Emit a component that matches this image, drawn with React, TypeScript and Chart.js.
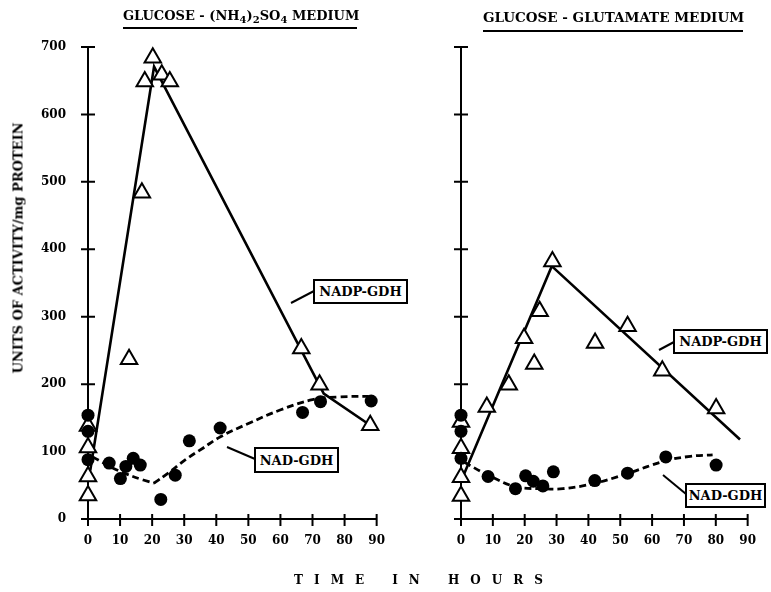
import React, { useEffect, useRef } from "react";
import { Chart, registerables } from "chart.js";

Chart.register(...registerables);

// ---------- data ----------
const xTickValues = [0, 10, 20, 30, 40, 50, 60, 70, 80, 90];
const yTickValues = [0, 100, 200, 300, 400, 500, 600, 700];

// Left panel: Glucose - (NH4)2SO4 medium
const leftNadpHours = [0, 0, 0, 0, 12.8, 16.8, 17.7, 20.2, 23, 25.5, 66.5, 72.2, 88];
const leftNadpValues = [138, 106, 63, 35, 237, 484, 649, 684, 659, 649, 253, 199, 139];
const leftNadHours = [0, 0, 0, 6.6, 10.1, 11.8, 14.1, 16.3, 22.7, 27.2, 31.6, 41.2, 66.9, 72.5, 88.3];
const leftNadValues = [154, 130, 88, 83, 60, 78, 90, 80, 29, 65, 116, 135, 158, 174, 175];
const leftNadpFitHours = [0.7, 20.6, 73.5, 88];
const leftNadpFitValues = [72, 671, 186, 139];
const leftNadFitAHours = [1.5, 8, 14, 20.5];
const leftNadFitAValues = [92, 75, 63, 53];
const leftNadFitBHours = [20.5, 25, 30.4, 35.8, 41.3, 50.2, 60.1, 70, 78, 87.5];
const leftNadFitBValues = [53, 68, 88, 105, 122, 142, 162, 177, 181, 182];

// Right panel: Glucose - glutamate medium
const rightNadpHours = [0, 0, 0, 0, 8.1, 15, 19.8, 23, 24.7, 28.7, 42.1, 52.3, 63.2, 80.1];
const rightNadpValues = [144, 105, 62, 34, 166, 199, 268, 230, 308, 382, 261, 286, 220, 164];
const rightNadHours = [0, 0, 0, 8.5, 17.1, 20.3, 22.7, 25.7, 29, 42, 52.3, 64.3, 80.1];
const rightNadValues = [154, 130, 90, 63, 45, 64, 56, 49, 70, 57, 68, 92, 80];
const rightNadpFitHours = [1, 28.5, 87.6];
const rightNadpFitValues = [67, 375, 118];
const rightNadFitHours = [1, 9, 17, 25, 32, 42, 52, 64, 72, 79];
const rightNadFitValues = [84, 64, 48, 45, 45, 53, 67, 86, 93, 95];

const FONT = "'DejaVu Serif', 'Liberation Serif', serif";

const pts = (xs: number[], ys: number[]) => xs.map((x, i) => ({ x, y: ys[i] }));

const triangleSet = (xs: number[], ys: number[]) => ({
  data: pts(xs, ys),
  showLine: false,
  pointStyle: "triangle",
  pointRadius: 9.5,
  pointBorderWidth: 2,
  pointBackgroundColor: "#ffffff",
  pointBorderColor: "#000000",
  clip: false,
  order: 1,
});

const circleSet = (xs: number[], ys: number[]) => ({
  data: pts(xs, ys),
  showLine: false,
  pointStyle: "circle",
  pointRadius: 6.5,
  pointBorderWidth: 0,
  pointBackgroundColor: "#000000",
  pointBorderColor: "#000000",
  clip: false,
  order: 0,
});

const solidLine = (xs: number[], ys: number[]) => ({
  data: pts(xs, ys),
  showLine: true,
  borderColor: "#000000",
  borderWidth: 2.6,
  pointRadius: 0,
  tension: 0,
  clip: false,
  order: 3,
});

const dashedLine = (xs: number[], ys: number[], tension: number) => ({
  data: pts(xs, ys),
  showLine: true,
  borderColor: "#000000",
  borderWidth: 2.8,
  borderDash: [7, 4],
  pointRadius: 0,
  tension,
  clip: false,
  order: 3,
});

const crossAxes = {
  id: "crossAxes",
  beforeDatasetsDraw(chart: any) {
    const { ctx, chartArea: a, scales } = chart;
    const x = scales.x;
    const y = scales.y;
    ctx.save();
    ctx.strokeStyle = "#000";
    ctx.lineWidth = 2;
    ctx.beginPath();
    ctx.moveTo(a.left, a.top);
    ctx.lineTo(a.left, a.bottom);
    ctx.moveTo(a.left - 7, a.bottom);
    ctx.lineTo(a.right, a.bottom);
    y.ticks.forEach((t: any) => {
      const py = y.getPixelForValue(t.value);
      ctx.moveTo(a.left - 7, py);
      ctx.lineTo(a.left + 7, py);
    });
    x.ticks.forEach((t: any) => {
      const px = x.getPixelForValue(t.value);
      ctx.moveTo(px, a.bottom - 5);
      ctx.lineTo(px, a.bottom + 7);
    });
    ctx.stroke();
    ctx.restore();
  },
};

function makeConfig(datasets: any[], showYLabels: boolean, yAxisWidth: number, rightPad: number): any {
  return {
    type: "scatter",
    data: { datasets },
    options: {
      responsive: false,
      animation: false,
      events: [],
      layout: { padding: { top: 47, right: rightPad, left: 0, bottom: 0 } },
      plugins: { legend: { display: false }, tooltip: { enabled: false }, title: { display: false } },
      scales: {
        x: {
          type: "linear",
          min: 0,
          max: 90,
          grid: { display: false, drawTicks: false },
          border: { display: false },
          afterBuildTicks: (s: any) => {
            s.ticks = xTickValues.map((v) => ({ value: v }));
          },
          ticks: {
            padding: 15,
            color: "#000",
            maxRotation: 0,
            autoSkip: false,
            font: { family: FONT, weight: "bold", size: 12 },
            callback: (v: any) => String(v),
          },
          afterFit: (s: any) => {
            s.height = 73;
          },
        },
        y: {
          type: "linear",
          min: 0,
          max: 700,
          grid: { display: false, drawTicks: false },
          border: { display: false },
          afterBuildTicks: (s: any) => {
            s.ticks = yTickValues.map((v) => ({ value: v }));
          },
          ticks: {
            display: showYLabels,
            padding: 22,
            color: "#000",
            font: { family: FONT, weight: "bold", size: 12 },
            callback: (v: any) => String(v),
          },
          afterFit: (s: any) => {
            s.width = yAxisWidth;
          },
        },
      },
    },
    plugins: [crossAxes],
  };
}

function Panel(props: { left: number; width: number; config: any }) {
  const ref = useRef<HTMLCanvasElement | null>(null);
  useEffect(() => {
    if (!ref.current) return;
    const chart = new Chart(ref.current, props.config);
    return () => chart.destroy();
  }, []);
  return (
    <canvas
      ref={ref}
      width={props.width}
      height={592}
      style={{ position: "absolute", left: props.left, top: 0, width: props.width, height: 592 }}
    />
  );
}

const boxStyle = (left: number, top: number, width: number, height: number): React.CSSProperties => ({
  position: "absolute",
  left,
  top,
  width,
  height,
  boxSizing: "border-box",
  border: "2px solid #000",
  background: "#fff",
  fontFamily: FONT,
  fontWeight: "bold",
  fontSize: 13,
  display: "flex",
  alignItems: "center",
  justifyContent: "center",
  whiteSpace: "nowrap",
  color: "#000",
});

const subStyle: React.CSSProperties = { fontSize: 10, verticalAlign: "-3px", lineHeight: 0 };

export default function App() {
  const leftConfig = makeConfig(
    [
      solidLine(leftNadpFitHours, leftNadpFitValues),
      dashedLine(leftNadFitAHours, leftNadFitAValues, 0.3),
      dashedLine(leftNadFitBHours, leftNadFitBValues, 0.4),
      triangleSet(leftNadpHours, leftNadpValues),
      circleSet(leftNadHours, leftNadValues),
    ],
    true,
    88,
    9
  );
  const rightConfig = makeConfig(
    [
      solidLine(rightNadpFitHours, rightNadpFitValues),
      dashedLine(rightNadFitHours, rightNadFitValues, 0.4),
      triangleSet(rightNadpHours, rightNadpValues),
      circleSet(rightNadHours, rightNadValues),
    ],
    false,
    61,
    9
  );

  const titleStyle: React.CSSProperties = {
    position: "absolute",
    fontFamily: FONT,
    fontWeight: "bold",
    fontSize: 13,
    color: "#000",
    whiteSpace: "nowrap",
    textAlign: "center",
    lineHeight: "16px",
  };

  return (
    <div style={{ position: "absolute", left: 0, top: 0, width: 771, height: 592, background: "#fff", overflow: "hidden" }}>
      <Panel left={0} width={400} config={leftConfig} />
      <Panel left={400} width={371} config={rightConfig} />

      {/* titles */}
      <div style={{ ...titleStyle, left: 123, top: 8, width: 234 }}>
        GLUCOSE - (NH<sub style={subStyle}>4</sub>)<sub style={subStyle}>2</sub>SO<sub style={subStyle}>4</sub> MEDIUM
      </div>
      <div style={{ position: "absolute", left: 123, top: 27, width: 234, height: 2, background: "#000" }} />
      <div style={{ ...titleStyle, fontSize: 13.5, left: 483, top: 9, width: 260 }}>GLUCOSE - GLUTAMATE MEDIUM</div>
      <div style={{ position: "absolute", left: 483, top: 30, width: 260, height: 2, background: "#000" }} />

      {/* y axis title */}
      <div
        style={{
          position: "absolute",
          left: 18,
          top: 248,
          transform: "translate(-50%, -50%) rotate(-90deg)",
          fontFamily: FONT,
          fontWeight: "bold",
          fontSize: 13,
          whiteSpace: "nowrap",
          color: "#000",
        }}
      >
        UNITS OF ACTIVITY/mg PROTEIN
      </div>

      {/* x axis title */}
      <div
        style={{
          position: "absolute",
          left: 424,
          top: 580,
          transform: "translate(-50%, -50%)",
          fontFamily: FONT,
          fontWeight: "bold",
          fontSize: 12,
          letterSpacing: 11,
          wordSpacing: 2,
          whiteSpace: "nowrap",
          color: "#000",
        }}
      >
        TIME IN HOURS
      </div>

      {/* leader lines */}
      <svg width={771} height={592} style={{ position: "absolute", left: 0, top: 0, pointerEvents: "none" }}>
        <g stroke="#000" strokeWidth={2}>
          <line x1={291} y1={303} x2={314} y2={291} />
          <line x1={227} y1={447} x2={255} y2={459} />
          <line x1={659} y1={350} x2={674} y2={342} />
          <line x1={663} y1={475} x2={686} y2={494} />
        </g>
      </svg>

      {/* labels */}
      <div style={boxStyle(313, 279, 95, 25)}>NADP-GDH</div>
      <div style={boxStyle(254, 447, 85, 26)}>NAD-GDH</div>
      <div style={boxStyle(673, 329, 95, 25)}>NADP-GDH</div>
      <div style={boxStyle(685, 483, 81, 25)}>NAD-GDH</div>
    </div>
  );
}
